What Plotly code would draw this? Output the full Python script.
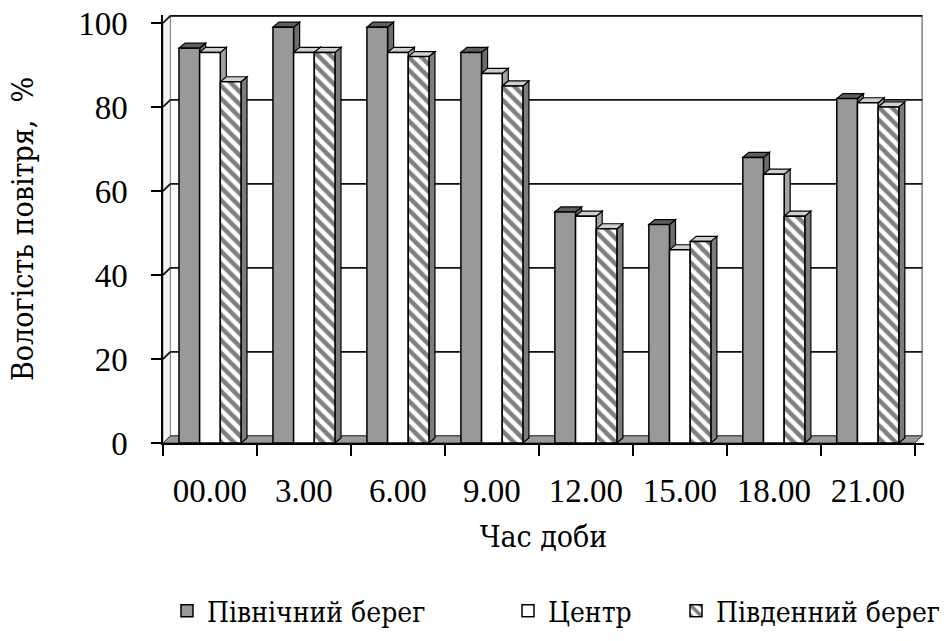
import plotly.graph_objects as go

# Air humidity by time of day at three points of the water body
HOURS = ["00.00", "3.00", "6.00", "9.00", "12.00", "15.00", "18.00", "21.00"]
NORTH_SHORE = [94, 99, 99, 93, 55, 52, 68, 82]
CENTRE = [93, 93, 93, 88, 54, 46, 64, 81]
SOUTH_SHORE = [86, 93, 92, 85, 51, 48, 54, 80]
SERIES_NAMES = ["Північний берег", "Центр", "Південний берег"]
Y_TICKS = [0, 20, 40, 60, 80, 100]

FONT = "Liberation Serif"
CYR_FONT = "DejaVu Serif Condensed, DejaVu Serif, serif"
W, H = 951, 641
M_L, M_R, M_T, M_B = 163, 27, 15, 198

# pseudo-3D geometry, in data units
BAR_GAP = 0.34
N_SERIES = 3
BAR_W = (1 - BAR_GAP) / N_SERIES
BAR_DX, BAR_DY = 0.064, 1.2      # depth of each column
WALL_DX, WALL_DY = 0.078, 1.7    # depth of floor and walls
X_MIN = -0.5
X_BACK = len(HOURS) - 0.5 + WALL_DX
X_MAX = X_BACK + 0.02
Y_MAX = 100 + WALL_DY + 0.2

x_pos = list(range(len(HOURS)))
series = [NORTH_SHORE, CENTRE, SOUTH_SHORE]

front_style = [
    dict(color="#999999", line=dict(color="black", width=1.5)),
    dict(color="white", line=dict(color="black", width=1.5)),
    dict(color="white", line=dict(color="black", width=1.5),
         pattern=dict(shape="\\", fgcolor="black", bgcolor="white",
                      size=9, solidity=0.5)),
]
top_fill = ["#5e5e5e", "#cfcfcf", "#d0d0d0"]
side_fill = ["#6c6c6c", "#a3a3a3", "#7c7c7c"]


def poly(points):
    return "M " + " L ".join(f"{x:.4f},{y:.4f}" for x, y in points) + " Z"


shapes = []

# back wall, left wall and the gridlines drawn on them
shapes.append(dict(type="rect", xref="x", yref="y", layer="below",
                   x0=X_MIN + WALL_DX, x1=X_BACK, y0=WALL_DY, y1=100 + WALL_DY,
                   fillcolor="white", line=dict(color="#808080", width=1.5)))
shapes.append(dict(type="path", xref="x", yref="y", layer="below",
                   path=poly([(X_MIN, 0), (X_MIN + WALL_DX, WALL_DY),
                              (X_MIN + WALL_DX, 100 + WALL_DY), (X_MIN, 100)]),
                   fillcolor="#f4f4f4", line=dict(color="#8c8c8c", width=1)))
for v in Y_TICKS[1:]:
    shapes.append(dict(type="line", xref="x", yref="y", layer="below",
                       x0=X_MIN + WALL_DX, x1=X_BACK, y0=v + WALL_DY, y1=v + WALL_DY,
                       line=dict(color="#111111", width=1.8)))
    shapes.append(dict(type="line", xref="x", yref="y", layer="below",
                       x0=X_MIN, x1=X_MIN + WALL_DX, y0=v, y1=v + WALL_DY,
                       line=dict(color="#111111", width=1.8)))

# floor slab
shapes.append(dict(type="path", xref="x", yref="y", layer="below",
                   path=poly([(X_MIN, 0), (X_BACK - WALL_DX, 0),
                              (X_BACK, WALL_DY), (X_MIN + WALL_DX, WALL_DY)]),
                   fillcolor="#9a9a9a", line=dict(color="#333333", width=1)))

# side and top faces of every column (front faces are the bar traces)
for i, vals in enumerate(series):
    for j, v in enumerate(vals):
        left = j - 0.5 + BAR_GAP / 2 + i * BAR_W
        right = left + BAR_W
        shapes.append(dict(type="path", xref="x", yref="y", layer="between",
                           path=poly([(right, 0), (right, v),
                                      (right + BAR_DX, v + BAR_DY),
                                      (right + BAR_DX, BAR_DY)]),
                           fillcolor=side_fill[i],
                           line=dict(color="black", width=1.2)))
        shapes.append(dict(type="path", xref="x", yref="y", layer="between",
                           path=poly([(left, v), (right, v),
                                      (right + BAR_DX, v + BAR_DY),
                                      (left + BAR_DX, v + BAR_DY)]),
                           fillcolor=top_fill[i],
                           line=dict(color="black", width=1.2)))

fig = go.Figure()
legend_ids = ["legend", "legend2", "legend3"]
for i, (name, vals) in enumerate(zip(SERIES_NAMES, series)):
    fig.add_trace(go.Bar(x=x_pos, y=vals, name=name, marker=front_style[i],
                         legend=legend_ids[i], showlegend=True,
                         hoverinfo="x+y+name"))

plot_w = W - M_L - M_R
plot_h = H - M_T - M_B


def px_to_paper_x(px):
    return (px - M_L) / plot_w


def px_to_paper_y(py):
    return (H - M_B - py) / plot_h


legend_font = dict(family=CYR_FONT, size=28, color="black")
legend_left_px = [167, 508, 676]
legend_y = px_to_paper_y(611)
legend_layout = {}
for lid, lx in zip(legend_ids, legend_left_px):
    legend_layout[lid] = dict(orientation="h", x=px_to_paper_x(lx), y=legend_y,
                              xanchor="left", yanchor="middle",
                              font=legend_font, bgcolor="rgba(0,0,0,0)",
                              itemwidth=30)

axis_font = dict(family=FONT, size=33, color="black")
title_font = dict(family=CYR_FONT, size=30, color="black")

fig.update_layout(
    width=W, height=H,
    margin=dict(l=M_L, r=M_R, t=M_T, b=M_B, autoexpand=False),
    paper_bgcolor="white", plot_bgcolor="white",
    showlegend=True,
    barmode="group", bargap=BAR_GAP, bargroupgap=0,
    shapes=shapes,
    font=dict(family=FONT, color="black"),
    xaxis=dict(
        range=[X_MIN, X_MAX], tickmode="array", tickvals=x_pos, ticktext=HOURS,
        ticks="", showgrid=False, zeroline=False,
        showline=True, linecolor="black", linewidth=1.5,
        minor=dict(tickmode="linear", tick0=-0.5, dtick=1, ticks="outside",
                   ticklen=11, tickwidth=1.5, tickcolor="black", showgrid=False),
        tickfont=axis_font, ticklabelstandoff=18,
        title=dict(text="Час доби", font=title_font, standoff=18),
    ),
    yaxis=dict(
        range=[0, Y_MAX], tickmode="array", tickvals=Y_TICKS,
        ticks="outside", ticklen=10, tickwidth=1.5, tickcolor="black",
        showgrid=False, zeroline=False,
        showline=True, linecolor="black", linewidth=1.5,
        tickfont=axis_font, ticklabelstandoff=17,
        title=dict(text="Вологість повітря,  %", font=title_font, standoff=36),
    ),
    **legend_layout,
)

fig.write_html("out.html")
